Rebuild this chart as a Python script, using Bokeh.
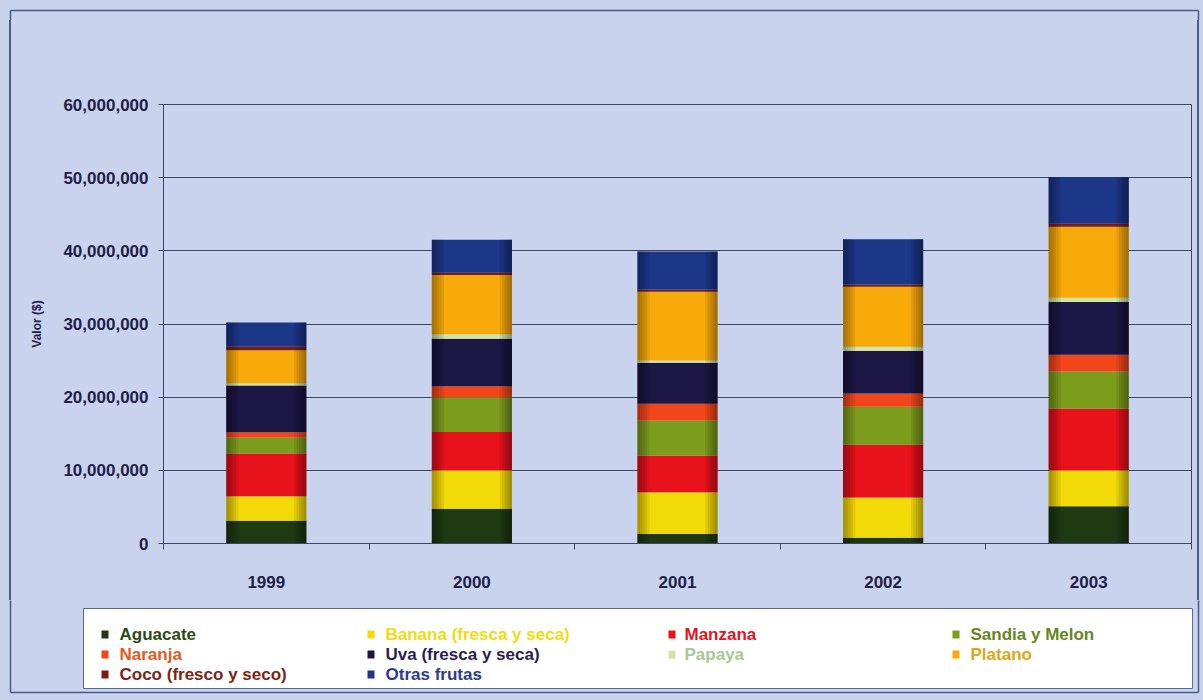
import numpy as np
from bokeh.plotting import figure
from bokeh.layouts import column, row
from bokeh.models import (ColumnDataSource, Range1d, FixedTicker, NumeralTickFormatter, Div)
from bokeh.core.properties import value
from bokeh.embed import file_html
from bokeh.resources import INLINE

# ---------------- data ----------------
years = ["1999", "2000", "2001", "2002", "2003"]
series_names = ["Aguacate", "Banana (fresca y seca)", "Manzana", "Sandia y Melon",
                "Naranja", "Uva (fresca y seca)", "Papaya", "Platano",
                "Coco (fresco y seco)", "Otras frutas"]
aguacate = [3100000, 4750000, 1300000, 800000, 5100000]
banana = [3350000, 5250000, 5700000, 5500000, 4900000]
manzana = [5850000, 5250000, 5000000, 7200000, 8400000]
sandia_melon = [2200000, 4750000, 4800000, 5200000, 5100000]
naranja = [700000, 1500000, 2300000, 1800000, 2300000]
uva = [6400000, 6500000, 5600000, 5800000, 7200000]
papaya = [300000, 600000, 300000, 600000, 600000]
platano = [4500000, 8100000, 9400000, 8200000, 9700000]
coco = [500000, 300000, 300000, 300000, 400000]
otras_frutas = [3300000, 4500000, 5200000, 6200000, 6400000]
y_ticks = [0, 10000000, 20000000, 30000000, 40000000, 50000000, 60000000]

series_values = [aguacate, banana, manzana, sandia_melon, naranja, uva, papaya,
                 platano, coco, otras_frutas]

# ---------------- style ----------------
bar_colors = ["#1f3a12", "#f2da08", "#e8121c", "#7c9c1c", "#f2461a",
              "#1c1744", "#cfe6a4", "#f7aa0a", "#7a1c12", "#1c3688"]
text_colors = ["#2c4a14", "#f0dc10", "#e4141e", "#66861e", "#e45a1c",
               "#2a1e52", "#a8c894", "#e0a414", "#7a2414", "#2a3c92"]
bg = "#c9d3ee"
ink = "#1e2048"
rule = "#3c4664"
frame_col = "#4a5a84"
FONT = "Liberation Sans"

W, H = 1203, 700
TOP_H, LEG_H = 20, 100          # strip heights
MID_H = H - TOP_H - LEG_H       # 580
L_W, R_W = 20, 10
P_W = W - L_W - R_W             # 1173
FL, FR, FT, FB = 163, 1191, 104, 543   # plot-area edges in page pixels
OX0, OX1, OY0, OY1 = 10, 1198, 10, 692  # outer frame in page pixels


def strip(w, h):
    f = figure(width=w, height=h, x_range=Range1d(0, w), y_range=Range1d(h, 0),
               x_axis_location=None, y_axis_location=None, min_border=0,
               output_backend="svg", toolbar_location=None)
    f.grid.visible = False
    f.outline_line_color = None
    f.background_fill_color = bg
    f.border_fill_color = bg
    return f


def side_strip(w, line_x):
    a, b = line_x - 0.75, line_x + 0.75
    grad = (f"linear-gradient(to right, {bg} {a}px, {frame_col} {a}px, "
            f"{frame_col} {b}px, {bg} {b}px)")
    return Div(text="", width=w, height=MID_H, margin=0,
               styles={"background": grad})


# ---------------- main chart ----------------
p = figure(width=P_W, height=MID_H, x_range=Range1d(0, len(years)),
           y_range=Range1d(y_ticks[0], y_ticks[-1]),
           output_backend="svg", toolbar_location=None,
           min_border_left=FL - L_W, min_border_right=(W - R_W) - FR,
           min_border_top=FT - TOP_H, min_border_bottom=(TOP_H + MID_H) - FB)
p.background_fill_color = bg
p.border_fill_color = bg
p.outline_line_color = rule
p.outline_line_width = 1

xs = np.arange(len(years)) + 0.5
data = {"x": xs}
for n, v in zip(series_names, series_values):
    data[n] = v
source = ColumnDataSource(data)

BW = 0.39
p.vbar_stack(series_names, x="x", width=BW, color=bar_colors, line_color=None,
             source=source)

# cylinder-like edge shading
totals = np.sum(np.array(series_values, dtype=float), axis=0)
for k in range(1, 6):
    w = 0.012 * k
    p.vbar(x=xs - BW / 2 + w / 2, top=totals, bottom=0, width=w,
           fill_color="black", fill_alpha=0.07, line_color=None)
    p.vbar(x=xs + BW / 2 - w / 2, top=totals, bottom=0, width=w,
           fill_color="black", fill_alpha=0.08, line_color=None)

p.xgrid.visible = False
p.yaxis.ticker = FixedTicker(ticks=y_ticks)
p.yaxis.formatter = NumeralTickFormatter(format="0,0")
p.ygrid.grid_line_color = rule
p.ygrid.grid_line_width = 1
p.yaxis.axis_label = "Valor ($)"
p.yaxis.axis_label_text_font = FONT
p.yaxis.axis_label_text_font_style = "bold"
p.yaxis.axis_label_text_font_size = "12px"
p.yaxis.axis_label_text_color = ink
p.yaxis.axis_label_standoff = 16
p.yaxis.major_label_text_font = FONT
p.yaxis.major_label_text_font_style = "bold"
p.yaxis.major_label_text_font_size = "17px"
p.yaxis.major_label_text_color = ink
p.yaxis.major_label_standoff = 10
p.yaxis.major_tick_out = 5
p.yaxis.major_tick_in = 0
p.yaxis.minor_tick_out = 0
p.yaxis.minor_tick_in = 0
p.yaxis.axis_line_color = rule
p.yaxis.major_tick_line_color = rule

p.xaxis.ticker = FixedTicker(ticks=list(xs), minor_ticks=list(range(len(years) + 1)))
p.xaxis.major_label_overrides = {float(x): y for x, y in zip(xs, years)}
p.xaxis.major_label_text_font = FONT
p.xaxis.major_label_text_font_style = "bold"
p.xaxis.major_label_text_font_size = "17px"
p.xaxis.major_label_text_color = ink
p.xaxis.major_label_standoff = 26
p.xaxis.major_tick_out = 0
p.xaxis.major_tick_in = 0
p.xaxis.minor_tick_out = 6
p.xaxis.minor_tick_in = 0
p.xaxis.minor_tick_line_color = rule
p.xaxis.axis_line_color = rule

# ---------------- frame strips ----------------
top = strip(W, TOP_H)
top.segment(x0=[OX0, OX0, OX1], y0=[OY0, OY0, OY0], x1=[OX1, OX0, OX1],
            y1=[OY0, TOP_H, TOP_H], line_color=frame_col, line_width=1.5)

left = side_strip(L_W, OX0)
right = side_strip(R_W, OX1 - (W - R_W))

# ---------------- legend strip ----------------
leg = strip(W, LEG_H)
y_off = TOP_H + MID_H
by = OY1 - y_off
leg.segment(x0=[OX0, OX1, OX0], y0=[-2, -2, by], x1=[OX0, OX1, OX1], y1=[by, by, by],
            line_color=frame_col, line_width=1.5)
leg.quad(left=[83], right=[1192], top=[608 - y_off], bottom=[688 - y_off],
         fill_color="white", line_color="#5a6a8c", line_width=1)

col_sq = [101, 367, 668, 952]
col_tx = [119, 385, 684, 970]
row_y = [634, 654, 674]
sq_x, sq_y, tx_x = [], [], []
for i in range(len(series_names)):
    r, c = divmod(i, 4)
    sq_x.append(col_sq[c] + 3.5)
    tx_x.append(col_tx[c])
    sq_y.append(row_y[r] - y_off)
leg_src = ColumnDataSource(dict(sx=sq_x, sy=sq_y, tx=tx_x, name=series_names,
                                fc=bar_colors, tc=text_colors))
leg.rect(x="sx", y="sy", width=7, height=8, fill_color="fc", line_color=None,
         source=leg_src)
leg.text(x="tx", y="sy", text="name", text_color="tc", text_font=value(FONT),
         text_font_style="bold", text_font_size="17px", text_baseline="middle",
         text_align="left", source=leg_src)

mid = row(left, p, right, styles={"background-color": bg})
layout = column(top, mid, leg, styles={"background-color": bg})
open("out.html", "w").write(file_html(layout, INLINE))
